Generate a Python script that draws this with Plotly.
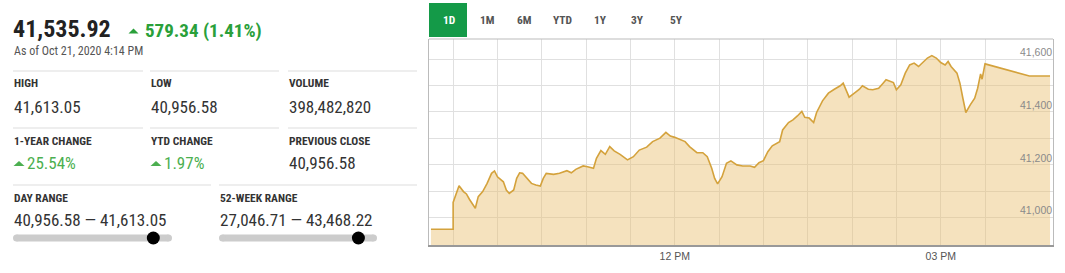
import plotly.graph_objects as go

# ---------------- data ----------------
DATE = "2020-10-21"
times = ["09:15", "09:30", "09:30", "09:34", "09:37", "09:39", "09:41", "09:45", "09:47", "09:50",
         "09:53", "09:56", "09:58", "10:00", "10:04", "10:06", "10:08", "10:11", "10:13", "10:15",
         "10:17", "10:20", "10:23", "10:26", "10:29", "10:31", "10:33", "10:38", "10:42", "10:47",
         "10:50", "10:53", "10:58", "11:01", "11:05", "11:07", "11:10", "11:13", "11:16", "11:19",
         "11:23", "11:28", "11:32", "11:36", "11:41", "11:45", "11:50", "11:54", "11:57", "12:00",
         "12:03", "12:07", "12:10", "12:15", "12:19", "12:22", "12:25", "12:27", "12:29", "12:32",
         "12:35", "12:38", "12:42", "12:46", "12:51", "12:54", "12:57", "13:00", "13:03", "13:06",
         "13:11", "13:13", "13:17", "13:20", "13:23", "13:26", "13:28", "13:31", "13:34", "13:36",
         "13:40", "13:44", "13:48", "13:52", "13:54", "13:56", "13:58", "14:02", "14:05", "14:07",
         "14:11", "14:14", "14:18", "14:21", "14:23", "14:28", "14:30", "14:33", "14:36", "14:39",
         "14:42", "14:45", "14:48", "14:51", "14:54", "14:57", "15:00", "15:03", "15:05", "15:07",
         "15:11", "15:13", "15:15", "15:17", "15:20", "15:23", "15:25", "15:27", "15:28", "15:30",
         "16:00", "16:14"]
values = [40956.58, 40956.58, 41058, 41121, 41099, 41090, 41070, 41036, 41080, 41099,
          41130, 41168, 41177, 41155, 41136, 41105, 41092, 41105, 41149, 41170,
          41168, 41149, 41130, 41124, 41120, 41149, 41168, 41164, 41168, 41178,
          41170, 41183, 41196, 41193, 41187, 41225, 41254, 41240, 41269, 41253,
          41240, 41219, 41231, 41256, 41267, 41288, 41301, 41323, 41309, 41304,
          41297, 41288, 41269, 41246, 41246, 41231, 41187, 41149, 41128, 41155,
          41206, 41215, 41200, 41196, 41196, 41191, 41208, 41216, 41250, 41272,
          41288, 41332, 41360, 41370, 41385, 41402, 41380, 41377, 41360, 41398,
          41442, 41471, 41486, 41499, 41509, 41484, 41456, 41473, 41486, 41499,
          41486, 41484, 41490, 41509, 41522, 41511, 41484, 41503, 41547, 41578,
          41585, 41572, 41587, 41604, 41613.05, 41604, 41587, 41578, 41591, 41572,
          41547, 41509, 41452, 41398, 41427, 41452, 41490, 41544, 41524, 41582,
          41535.92, 41535.92]

grid_times = ["09:30", "10:00", "10:30", "11:00", "11:30", "12:00", "12:30", "13:00",
              "13:30", "14:00", "14:30", "15:00", "15:30", "16:00"]
grid_labels = {"12:00": "12 PM", "15:00": "03 PM"}
y_ticks = [40900, 41000, 41100, 41200, 41300, 41400, 41500, 41600]
y_labels = {41000: "41,000", 41200: "41,200", 41400: "41,400", 41600: "41,600"}

last_price = "41,535.92"
change_text = "579.34 (1.41%)"
as_of = "As of Oct 21, 2020 4:14 PM"
stat_labels = ["HIGH", "LOW", "VOLUME", "1-YEAR CHANGE", "YTD CHANGE", "PREVIOUS CLOSE"]
stat_values = ["41,613.05", "40,956.58", "398,482,820", "25.54%", "1.97%", "40,956.58"]
stat_up = [False, False, False, True, True, False]
range_labels = ["DAY RANGE", "52-WEEK RANGE"]
range_values = ["40,956.58 \u2014 41,613.05", "27,046.71 \u2014 43,468.22"]
range_low = [40956.58, 27046.71]
range_high = [41613.05, 43468.22]
range_cur = [41535.92, 41535.92]
periods = ["1D", "1M", "6M", "YTD", "1Y", "3Y", "5Y"]

# ---------------- layout geometry ----------------
W, H = 1065, 273
L, R, T, B = 429, 1053, 39, 245


def fx(px):
    return (px - L) / (R - L)


def fy(py):
    return (B - py) / (B - T)


FONT = "Roboto Condensed, Liberation Sans Narrow, Roboto, sans-serif"
GREEN = "#2aa03a"
GREEN2 = "#4caf50"
DARK = "#333333"

fig = go.Figure()
fig.add_trace(go.Scatter(
    x=[f"{DATE} {t}" for t in times], y=values, mode="lines",
    line=dict(color="#d4a23c", width=1.6),
    fill="tozeroy", fillcolor="rgba(232, 190, 110, 0.45)",
    hoverinfo="skip", showlegend=False))

shapes = []
annotations = []


def text(s, x, y, size, color=DARK, bold=False, anchor="left", family=FONT):
    annotations.append(dict(
        text=f"<b>{s}</b>" if bold else s, x=fx(x), y=fy(y), xref="paper", yref="paper",
        xanchor=anchor, yanchor="middle", showarrow=False, borderpad=0,
        font=dict(size=size, color=color, family=family)))


def hline(x0, x1, y, color="#dddddd", width=1):
    shapes.append(dict(type="line", xref="paper", yref="paper", x0=fx(x0), x1=fx(x1),
                       y0=fy(y), y1=fy(y), line=dict(color=color, width=width), layer="above"))


def tri(cx, by, w, h, color):
    shapes.append(dict(type="path", xref="paper", yref="paper", xsizemode="pixel", ysizemode="pixel",
                       xanchor=fx(cx), yanchor=fy(by),
                       path=f"M {-w/2},0 L {w/2},0 L 0,{h} Z",
                       fillcolor=color, line=dict(width=0)))


def circle(cx, cy, r, color):
    shapes.append(dict(type="circle", xref="paper", yref="paper", xsizemode="pixel", ysizemode="pixel",
                       xanchor=fx(cx), yanchor=fy(cy), x0=-r, x1=r, y0=-r, y1=r,
                       fillcolor=color, line=dict(width=0)))


def rect(x0, y0, x1, y1, color):
    shapes.append(dict(type="rect", xref="paper", yref="paper", x0=fx(x0), x1=fx(x1),
                       y0=fy(y1), y1=fy(y0), fillcolor=color, line=dict(width=0)))


# header
text(last_price, 12, 29, 24, "#222222", bold=True)
tri(133.5, 33.5, 10, 5, GREEN)
text(change_text, 144, 30, 19, GREEN, bold=True)
text(as_of, 13, 51, 12, "#555555")

# stat grid
cols = [(13, 143), (150, 279), (288, 417)]
rows = [(71, 83, 107), (128, 141, 163)]
for i, (lab, val, up) in enumerate(zip(stat_labels, stat_values, stat_up)):
    r, c = divmod(i, 3)
    line_y, lab_y, val_y = rows[r]
    x0, x1 = cols[c]
    hline(x0, x1, line_y)
    text(lab, x0, lab_y, 11.5, DARK, bold=True)
    if up:
        tri(x0 + 6, 166, 11, 5, GREEN2)
        text(val, x0 + 13, val_y, 17, GREEN2)
    else:
        text(val, x0, val_y, 17, DARK)

# ranges
rcols = [(13, 211, 172), (219, 417, 377)]
for lab, val, lo, hi, cur, (x0, x1, bx1) in zip(range_labels, range_values, range_low,
                                                 range_high, range_cur, rcols):
    hline(x0, x1, 185)
    text(lab, x0, 198, 11.5, DARK, bold=True)
    text(val, x0, 220, 17, DARK)
    by = 238
    rect(x0 + 3.5, by - 3.5, bx1 - 3.5, by + 3.5, "#cccccc")
    circle(x0 + 3.5, by, 3.5, "#cccccc")
    circle(bx1 - 3.5, by, 3.5, "#cccccc")
    pos = x0 + (bx1 - x0) * (cur - lo) / (hi - lo)
    circle(pos, by, 6.5, "#000000")

# period buttons
btn_x = [448.5, 487, 524, 562, 600, 637.5, 676]
rect(429, 3, 467, 37, "#149a48")
for p, bx in zip(periods, btn_x):
    text(p, bx, 20.5, 11.5, "#ffffff" if p == "1D" else "#555555", bold=True, anchor="center")

# chart top border
shapes.append(dict(type="line", xref="paper", yref="paper", x0=0, x1=1, y0=1, y1=1,
                   line=dict(color="#bbbbbb", width=1)))

fig.update_layout(
    width=W, height=H, margin=dict(l=L, r=W - R, t=T, b=H - B),
    paper_bgcolor="white", plot_bgcolor="white",
    shapes=shapes, annotations=annotations, showlegend=False,
    xaxis=dict(type="date", range=[f"{DATE} 09:13:40", f"{DATE} 16:16:00"],
               tickmode="array", tickvals=[f"{DATE} {t}" for t in grid_times],
               ticktext=[grid_labels.get(t, "") for t in grid_times],
               showgrid=True, gridcolor="#e0e0e0", gridwidth=1, ticks="",
               showline=True, linecolor="#999999", linewidth=2,
               tickfont=dict(family="Liberation Sans, Arial, sans-serif", size=10.5, color="#555555"),
               zeroline=False, fixedrange=True),
    yaxis=dict(range=[40897, 41676], side="right", ticklabelposition="inside",
               tickmode="array", tickvals=y_ticks, ticktext=[y_labels.get(v, "") for v in y_ticks],
               showgrid=True, gridcolor="#e0e0e0", gridwidth=1, ticks="",
               showline=True, mirror=True, linecolor="#bbbbbb", linewidth=1,
               ticklabelshift=-7, ticklabelstandoff=0,
               tickfont=dict(family="Liberation Sans, Arial, sans-serif", size=10.5, color="#8a8a8a"),
               zeroline=False, fixedrange=True),
)

fig.write_html("out.html", config={"displayModeBar": False})
